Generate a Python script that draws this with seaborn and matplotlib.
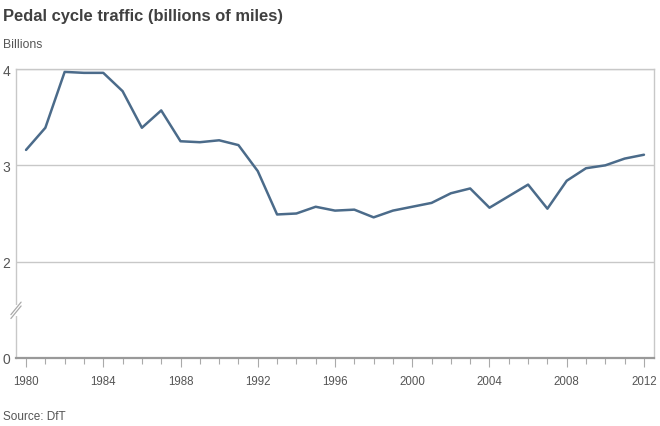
import numpy as np
import pandas as pd
import matplotlib
matplotlib.use('Agg')
import matplotlib.pyplot as plt
import matplotlib.transforms as mtransforms
from matplotlib.patches import Rectangle
import seaborn as sns

# Data (billions of miles)
years = list(range(1980, 2013))
miles = [3.16, 3.39, 3.97, 3.96, 3.96, 3.77, 3.39, 3.57, 3.25, 3.24,
         3.26, 3.21, 2.94, 2.49, 2.50, 2.57, 2.53, 2.54, 2.46, 2.53,
         2.57, 2.61, 2.71, 2.76, 2.56, 2.68, 2.80, 2.55, 2.84, 2.97,
         3.00, 3.07, 3.11]
ytick_pos = [1, 2, 3, 4]           # axis is broken: position 1 shows 0
ytick_labels = ['0', '2', '3', '4']
xtick_major = list(range(1980, 2013, 4))

df = pd.DataFrame({'year': years, 'miles': miles})

sns.set_style('white')
plt.rcParams['font.family'] = ['Liberation Sans', 'DejaVu Sans']

fig = plt.figure(figsize=(6.6, 4.27), dpi=100)
ax = fig.add_axes([16/660, 1 - 359/427, 638/660, 289/427])

line_col = '#4b6b8a'
grid_col = '#c8c8c8'
text_col = '#555555'

for v in [2, 3, 4]:
    ax.axhline(v, color=grid_col, lw=1, zorder=0)

sns.lineplot(data=df, x='year', y='miles', color=line_col, lw=1.8, ax=ax)

ax.set_xlim(1979.48, 2012.52)
ax.set_ylim(1, 4)
ax.set_yticks(ytick_pos)
ax.set_yticklabels(ytick_labels)
ax.set_xticks(xtick_major)
ax.set_xticks(years, minor=True)
ax.set_xlabel('')
ax.set_ylabel('')

ax.tick_params(axis='y', length=0, pad=4, labelsize=10, labelcolor=text_col)
ax.tick_params(axis='x', which='major', length=6.5, width=0.8, color='#aaaaaa',
               pad=6, labelsize=8.3, labelcolor=text_col, direction='out', bottom=True)
ax.tick_params(axis='x', which='minor', length=4, width=0.8, color='#aaaaaa',
               direction='out', bottom=True)

for s in ['top', 'right', 'left']:
    ax.spines[s].set_color(grid_col)
    ax.spines[s].set_linewidth(1)
ax.spines['bottom'].set_color('#999999')
ax.spines['bottom'].set_linewidth(1.6)

# axis break mark on the left spine
trans = mtransforms.blended_transform_factory(ax.transAxes, ax.transData)
ax.add_patch(Rectangle((-0.01, 1.44), 0.02, 0.11, transform=trans,
                       facecolor='white', edgecolor='none', clip_on=False, zorder=5))
for y0 in [1.41, 1.45]:
    ax.plot([-0.008, 0.008], [y0, y0 + 0.13], transform=trans, color='#aaaaaa',
            lw=0.9, clip_on=False, zorder=6)

fig.text(3/660, 1 - 17/427, 'Pedal cycle traffic (billions of miles)', fontsize=11.9,
         fontweight='bold', color='#404040', va='center', ha='left')
fig.text(3/660, 1 - 45/427, 'Billions', fontsize=8.8, color=text_col, va='center', ha='left')
fig.text(3/660, 1 - 417/427, 'Source: DfT', fontsize=8.5, color=text_col, va='center', ha='left')

fig.savefig('out.png', dpi=100)
